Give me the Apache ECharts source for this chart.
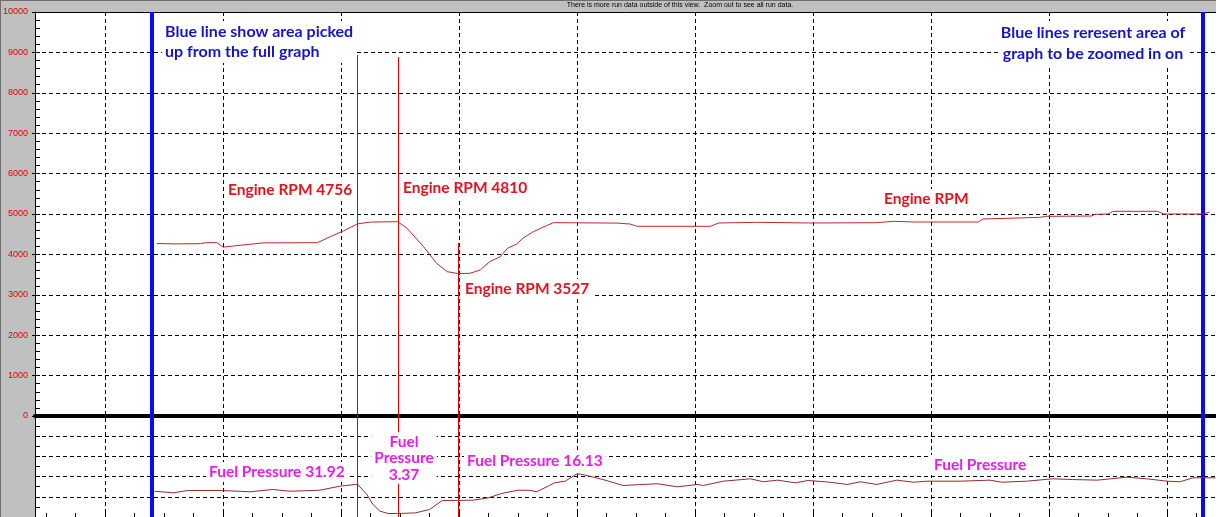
<!DOCTYPE html>
<html><head><meta charset="utf-8">
<script src="https://cdn.jsdelivr.net/npm/echarts@6/dist/echarts.min.js"></script>
<style>html,body{margin:0;padding:0;background:#c0c0c0;overflow:hidden}#c{width:1216px;height:517px}</style>
</head><body><div id="c"></div>
<script>
// ---- data (x in time units: one vertical grid division = 1) ----
const rpmX = [1.44,1.59,1.81,1.85,1.95,2.00,2.08,2.34,2.80,2.91,3.02,3.14,3.25,3.48,3.56,3.70,3.81,3.90,3.99,4.09,4.18,4.26,4.35,4.41,4.49,4.54,4.63,4.71,4.80,5.34,5.45,5.51,6.13,6.20,6.53,7.00,7.54,7.68,7.85,8.40,8.44,8.92,8.98,9.36,9.39,9.50,9.54,9.92,9.97,10.31,10.36];
const rpmY = [4270,4260,4265,4290,4290,4180,4205,4285,4290,4440,4580,4756,4800,4810,4645,4190,3780,3572,3527,3530,3614,3820,3944,4150,4257,4398,4562,4670,4785,4775,4752,4695,4695,4777,4794,4777,4785,4819,4802,4802,4876,4917,4942,4950,4992,5000,5066,5066,5000,5000,5050];
const fuelX = [1.42,1.58,1.70,1.99,2.23,2.42,2.57,2.82,2.99,3.14,3.22,3.27,3.33,3.40,3.48,3.63,3.75,3.86,3.99,4.12,4.25,4.36,4.50,4.60,4.66,4.81,4.90,5.00,5.05,5.22,5.39,5.68,5.85,6.02,6.07,6.24,6.47,6.58,6.70,6.85,6.96,7.14,7.29,7.40,7.54,7.71,7.85,7.97,8.25,8.50,8.60,8.81,9.03,9.20,9.41,9.66,9.83,10.00,10.11,10.22,10.41];
const fuelY = [25.1,23.6,25.8,25.8,24.6,26.8,25.1,26.1,30.0,31.92,21.9,12.2,5.7,3.4,3.37,4.0,7.3,16.1,16.13,16.4,18.7,22.9,26.1,26.0,24.6,33.3,34.9,42.1,41.4,36.5,30.7,32.4,29.4,31.7,30.7,34.9,37.2,34.3,35.9,33.3,35.6,33.9,31.7,34.3,31.7,35.9,33.9,34.9,34.9,35.9,33.9,34.9,37.2,36.5,35.9,38.8,37.2,34.9,34.3,38.2,38.2];

// ---- axes ----
const X_MIN = 0.407, X_MAX = 10.415;
const Y_MIN = -2500, Y_MAX = 10000;
const FUEL_MIN = 0, FUEL_MAX = 492;
const yTickLabels = [0,1000,2000,3000,4000,5000,6000,7000,8000,9000,10000];
const yGridUpper = [1000,2000,3000,4000,5000,6000,7000,8000,9000];
const yGridLower = [-500,-1000,-1500,-2000];
const xGridLines = [1,2,3,4,5,6,7,8,9,10];

// annotation lines (data coords)
const blueLinesX = [1.398, 10.305];
const redLinesX = [3.136, 3.483, 3.992];
const redLinesTop = [8936, 8886, 4282];

// annotation texts
const notes = [
  {text:'Blue line show area picked\nup from the full graph', x:162, y:42, lh:20, size:16, color:'#1414c8', align:'left'},
  {text:'Blue lines reresent area of\ngraph to be zoomed in on', x:1093, y:43, lh:21, size:16, color:'#1414c8', align:'center'},
  {text:'Engine RPM 4756', x:225, y:190, color:'#e0141e', align:'left'},
  {text:'Engine RPM 4810', x:400, y:188, color:'#e0141e', align:'left'},
  {text:'Engine RPM 3527', x:462, y:289, color:'#e0141e', align:'left'},
  {text:'Engine RPM', x:881, y:199, color:'#e0141e', align:'left'},
  {text:'Fuel Pressure 31.92', x:206, y:472, color:'#e61ee6', align:'left'},
  {text:'Fuel\nPressure\n3.37', x:404, y:458, lh:16.5, color:'#e61ee6', align:'center'},
  {text:'Fuel Pressure 16.13', x:464, y:461, color:'#e61ee6', align:'left'},
  {text:'Fuel Pressure', x:931, y:465, color:'#e61ee6', align:'left'}
];

const yMinor = [];
for (let v = 0; v <= 10000; v += 200) yMinor.push(v);
for (let v = -250; v >= -2500; v -= 250) yMinor.push(v);
const xMinor = [];
for (let v = 0.5; v <= 10.3; v += 0.25) xMinor.push(+v.toFixed(2));

const rpmData = rpmX.map((x,i)=>[x, rpmY[i]]);
const fuelData = fuelX.map((x,i)=>[x, fuelY[i]]);

const chart = echarts.init(document.getElementById('c'), null, {renderer:'canvas'});
const dash = {color:'#000', width:1, type:[4,3]};
const markData = [];
blueLinesX.forEach(x => markData.push({xAxis:x, lineStyle:{color:'#0a0af0', width:4, type:'solid'}}));
redLinesX.forEach((x,i) => markData.push([{coord:[x, redLinesTop[i]], lineStyle:{color:'#e00000', width:1, type:'solid'}}, {coord:[x, Y_MIN]}]));

const textEls = notes.map(n => ({
  type:'text', x:n.x, y:n.y, z:100,
  style:{text:n.text, fill:n.color, font:'bold ' + (n.size || 15.5) + 'px Lato', textAlign:n.align, textVerticalAlign:'middle',
         lineHeight:n.lh || 18, backgroundColor:'#ffffff', padding:[1,3,1,3]}
}));
textEls.push({type:'text', x:680, y:5, z:100, style:{text:'There is more run data outside of this view.  Zoom out to see all run data.', fill:'#000', font:'7px "Liberation Sans"', textAlign:'center', textVerticalAlign:'middle'}});
textEls.push({type:'line', shape:{x1:0.5,y1:0,x2:0.5,y2:517}, style:{stroke:'#6e6e6e', lineWidth:1}, z:100});
textEls.push({type:'line', shape:{x1:0,y1:0.5,x2:1216,y2:0.5}, style:{stroke:'#6e6e6e', lineWidth:1}, z:100});

chart.setOption({
  animation:false,
  backgroundColor:'#c0c0c0',
  grid:{left:35, right:0, top:12, bottom:0, show:true, backgroundColor:'#ffffff', borderWidth:0, outerBoundsMode:'none', containLabel:false},
  xAxis:[
    {type:'value', min:X_MIN, max:X_MAX, position:'bottom',
     axisLine:{show:true, onZero:true, onZeroAxisIndex:0, lineStyle:{color:'#000', width:4}},
     axisTick:{show:false, customValues:xGridLines}, axisLabel:{show:false},
     splitLine:{show:true, lineStyle:dash}},
    {type:'value', min:X_MIN, max:X_MAX, position:'bottom',
     axisLine:{show:false, onZero:false},
     axisTick:{show:true, inside:true, length:4, customValues:xMinor, lineStyle:{color:'#000'}},
     axisLabel:{show:false}, splitLine:{show:false}},
    {type:'value', min:X_MIN, max:X_MAX, position:'top',
     axisLine:{show:true, onZero:false, lineStyle:{color:'#000', width:1}},
     axisTick:{show:false}, axisLabel:{show:false}, splitLine:{show:false}}
  ],
  yAxis:[
    {type:'value', min:Y_MIN, max:Y_MAX, position:'left',
     axisLine:{show:false}, axisTick:{show:false, customValues:yGridUpper.concat(yGridLower)},
     axisLabel:{show:true, customValues:yTickLabels, formatter:v => String(v), color:'#e00000', fontSize:9, fontFamily:'Liberation Sans', margin:7},
     splitLine:{show:true, lineStyle:dash}},
    {type:'value', min:Y_MIN, max:Y_MAX, position:'left',
     axisLine:{show:true, onZero:false, lineStyle:{color:'#000', width:1}},
     axisTick:{show:true, inside:true, length:5, customValues:yMinor, lineStyle:{color:'#000'}},
     axisLabel:{show:false}, splitLine:{show:false}},
    {type:'value', min:Y_MIN, max:Y_MAX, position:'left',
     axisLine:{show:false, onZero:false},
     axisTick:{show:true, inside:false, length:3, customValues:yTickLabels, lineStyle:{color:'#000'}},
     axisLabel:{show:false}, splitLine:{show:false}},
    {type:'value', min:FUEL_MIN, max:FUEL_MAX, show:false, position:'right'}
  ],
  series:[
    {name:'Engine RPM', type:'line', xAxisIndex:0, yAxisIndex:0, data:rpmData, showSymbol:false, symbol:'none',
     lineStyle:{color:'#c0262c', width:1}, z:5,
     markLine:{silent:true, symbol:['none','none'], label:{show:false}, animation:false, data:markData}},
    {name:'Fuel Pressure', type:'line', xAxisIndex:0, yAxisIndex:3, data:fuelData, showSymbol:false, symbol:'none',
     lineStyle:{color:'#9a2a2a', width:1}, z:5}
  ],
  graphic:{elements:textEls}
});
</script>
</body></html>
